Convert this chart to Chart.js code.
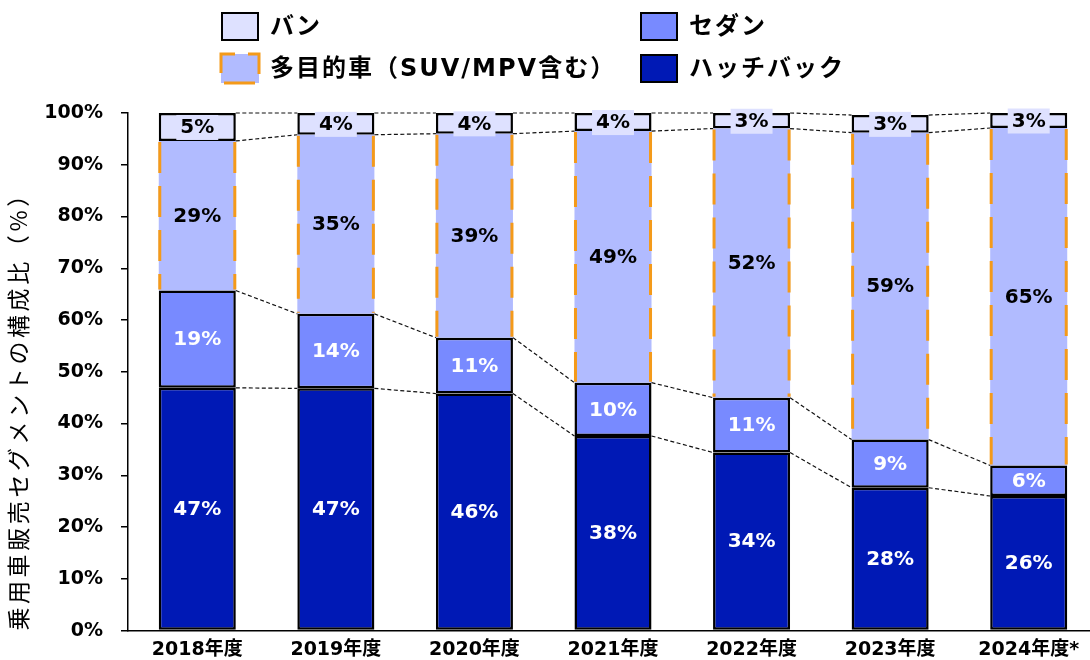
<!DOCTYPE html>
<html lang="ja">
<head>
<meta charset="utf-8">
<script src="https://cdn.jsdelivr.net/npm/chart.js@4.4.1/dist/chart.umd.min.js"></script>
<style>
  html, body { margin: 0; padding: 0; background: #fff; overflow: hidden; }
  #wrap { width: 1100px; height: 660px; position: relative; }
</style>
</head>
<body>
<div id="wrap"><canvas id="chart"></canvas></div>
<script>
// 年度
const years = ['2018年度', '2019年度', '2020年度', '2021年度', '2022年度', '2023年度', '2024年度*'];
// 構成比（%）
const hatchback = [46.9, 46.8, 45.8, 37.6, 34.4, 27.6, 26.0];
const sedan     = [18.8, 14.4, 10.8, 10.3, 10.6,  9.3,  5.9];
const mpv       = [28.9, 34.6, 39.4, 48.6, 52.0, 59.3, 65.2];
const van       = [ 5.4,  4.2,  4.0,  3.5,  3.0,  3.4,  2.9];
const seriesNames = ['ハッチバック', 'セダン', '多目的車（SUV/MPV含む）', 'バン'];
const yTitle = '乗用車販売セグメントの構成比（%）';

const colors = ['#0019B5', '#788AFF', '#B1BBFF', '#DEE1FF'];
const labelColors = ['#fff', '#fff', '#000', '#000'];
const orange = '#F49A1A';
const numFont = 'bold 20px "DejaVu Sans", "Noto Sans CJK JP"';
const legendFont = 'bold 24px "DejaVu Sans", "Noto Sans CJK JP"';

// 区分の境目をつなぐ点線
const segLines = {
  id: 'segLines',
  afterDatasetsDraw(chart) {
    const ctx = chart.ctx;
    ctx.save();
    ctx.strokeStyle = '#111';
    ctx.lineWidth = 1.2;
    ctx.setLineDash([4, 2.5]);
    chart.data.datasets.forEach((ds, i) => {
      const bars = chart.getDatasetMeta(i).data;
      for (let j = 0; j < bars.length - 1; j++) {
        const a = bars[j], b = bars[j + 1];
        ctx.beginPath();
        ctx.moveTo(a.x + a.width / 2, a.y);
        ctx.lineTo(b.x - b.width / 2, b.y);
        ctx.stroke();
      }
    });
    ctx.restore();
  }
};

// 多目的車の左右オレンジ破線
const mpvEdges = {
  id: 'mpvEdges',
  afterDatasetsDraw(chart) {
    const ctx = chart.ctx;
    ctx.save();
    ctx.strokeStyle = orange;
    ctx.lineWidth = 3;
    ctx.setLineDash([31, 13]);
    chart.getDatasetMeta(2).data.forEach(b => {
      [b.x - b.width / 2 + 1, b.x + b.width / 2 - 1].forEach(x => {
        ctx.beginPath();
        ctx.moveTo(x, b.y + 1);
        ctx.lineTo(x, b.base - 1);
        ctx.stroke();
      });
    });
    ctx.restore();
  }
};

// 値ラベル
const segLabels = {
  id: 'segLabels',
  afterDatasetsDraw(chart) {
    const ctx = chart.ctx;
    ctx.save();
    ctx.font = numFont;
    ctx.textAlign = 'center';
    ctx.textBaseline = 'middle';
    chart.data.datasets.forEach((ds, i) => {
      chart.getDatasetMeta(i).data.forEach((b, j) => {
        const txt = Math.round(ds.data[j]) + '%';
        const cy = (b.y + b.base) / 2;
        if (i === 3) {
          const w = ctx.measureText(txt).width + 8;
          ctx.fillStyle = colors[3];
          ctx.fillRect(b.x - w / 2, cy - 12, w, 25);
        }
        ctx.fillStyle = labelColors[i];
        ctx.fillText(txt, b.x, cy + 1);
      });
    });
    ctx.restore();
  }
};

// 縦軸タイトル（字間あり）
const yTitleDraw = {
  id: 'yTitleDraw',
  afterDraw(chart) {
    const ctx = chart.ctx;
    ctx.save();
    ctx.translate(18, chart.chartArea.bottom);
    ctx.rotate(-Math.PI / 2);
    ctx.font = '23px "Noto Sans CJK JP"';
    ctx.letterSpacing = '3.6px';
    ctx.fillStyle = '#000';
    ctx.textAlign = 'left';
    ctx.textBaseline = 'middle';
    ctx.fillText(yTitle, 0, 0);
    ctx.restore();
  }
};

// 凡例（2列）
const legendGrid = {
  id: 'legendGrid',
  afterDraw(chart) {
    const ctx = chart.ctx;
    const items = [
      { ds: 3, x: 221, y: 12 }, { ds: 1, x: 640, y: 12 },
      { ds: 2, x: 221, y: 54 }, { ds: 0, x: 640, y: 54 }
    ];
    ctx.save();
    items.forEach(it => {
      const w = 38, h = 29;
      ctx.fillStyle = colors[it.ds];
      ctx.fillRect(it.x, it.y, w, h);
      if (it.ds === 2) {
        ctx.strokeStyle = orange;
        ctx.lineWidth = 3;
        ctx.setLineDash([31, 13]);
        ctx.beginPath();
        ctx.moveTo(it.x, it.y + 17);
        ctx.lineTo(it.x, it.y);
        ctx.lineTo(it.x + w, it.y);
        ctx.lineTo(it.x + w, it.y + h);
        ctx.lineTo(it.x, it.y + h);
        ctx.lineTo(it.x, it.y + 17);
        ctx.stroke();
        ctx.setLineDash([]);
      } else {
        ctx.strokeStyle = '#000';
        ctx.lineWidth = 2;
        ctx.strokeRect(it.x + 1, it.y + 1, w - 2, h - 2);
      }
      ctx.fillStyle = '#000';
      ctx.font = legendFont;
      ctx.letterSpacing = '2px';
      ctx.textAlign = 'left';
      ctx.textBaseline = 'middle';
      ctx.fillText(seriesNames[it.ds], it.x + 49, it.y + h / 2 + 1);
    });
    ctx.restore();
  }
};

function serie(i, data) {
  const boxed = i !== 2;
  return {
    label: seriesNames[i],
    data: data,
    backgroundColor: colors[i],
    borderColor: '#000',
    borderWidth: boxed ? 2.5 : 0,
    borderSkipped: false,
    inflateAmount: 0,
    barPercentage: 0.556,
    categoryPercentage: 1
  };
}

new Chart(document.getElementById('chart'), {
  type: 'bar',
  data: {
    labels: years,
    datasets: [serie(0, hatchback), serie(1, sedan), serie(2, mpv), serie(3, van)]
  },
  options: {
    responsive: true,
    maintainAspectRatio: false,
    animation: false,
    layout: { padding: { top: 113, right: 2, left: 0, bottom: 0 } },
    plugins: { legend: { display: false }, tooltip: { enabled: false } },
    scales: {
      x: {
        stacked: true,
        grid: { display: false },
        border: { display: true, color: '#000', width: 1.5 },
        ticks: {
          color: '#000',
          padding: 0,
          font: { family: '"DejaVu Sans", "Noto Sans CJK JP"', size: 19, weight: 'bold' }
        },
        afterFit: s => { s.height = 28; }
      },
      y: {
        stacked: true,
        min: 0,
        max: 100,
        grid: { drawOnChartArea: false, drawTicks: true, tickLength: 7, color: '#000', lineWidth: 1.5 },
        border: { display: true, color: '#000', width: 1.5 },
        ticks: {
          stepSize: 10,
          color: '#000',
          padding: 18,
          font: { family: '"DejaVu Sans"', size: 19, weight: 'bold' },
          callback: v => v + '%'
        },
        afterFit: s => { s.width = 128; }
      }
    }
  },
  plugins: [segLines, mpvEdges, segLabels, yTitleDraw, legendGrid]
});
</script>
</body>
</html>
